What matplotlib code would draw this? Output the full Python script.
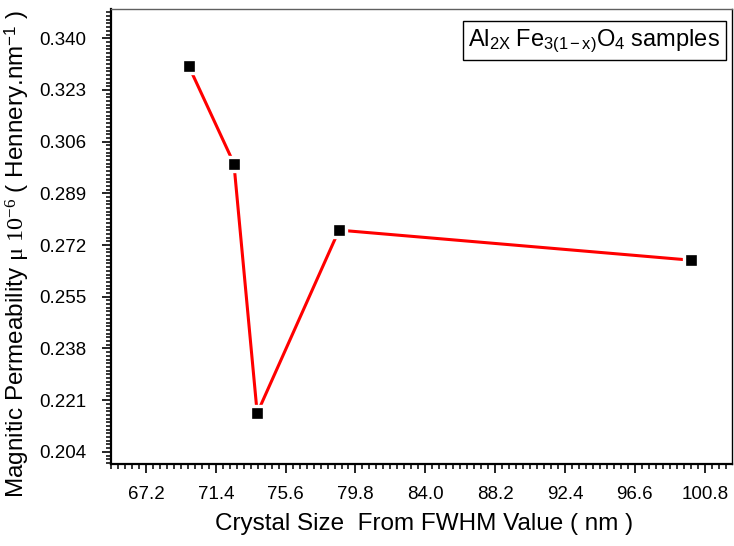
import matplotlib
matplotlib.use("Agg")
import matplotlib.pyplot as plt
from matplotlib.ticker import FixedLocator, FormatStrFormatter, AutoMinorLocator

# Crystal size (nm) vs magnetic permeability (x 1e-6 H/nm)
crystal_size = [69.77, 72.49, 73.89, 78.81, 100.0]
permeability = [0.3309, 0.2988, 0.2167, 0.2769, 0.2670]

x_ticks = [67.2, 71.4, 75.6, 79.8, 84.0, 88.2, 92.4, 96.6, 100.8]
y_ticks = [0.204, 0.221, 0.238, 0.255, 0.272, 0.289, 0.306, 0.323, 0.340]

plt.rcParams["font.family"] = ["Liberation Sans", "DejaVu Sans"]
plt.rcParams["mathtext.fontset"] = "custom"
plt.rcParams["mathtext.rm"] = "Liberation Serif"
plt.rcParams["mathtext.it"] = "Liberation Serif:italic"
plt.rcParams["mathtext.bf"] = "Liberation Serif:bold"
plt.rcParams["mathtext.sf"] = "Liberation Sans"

fig = plt.figure(figsize=(7.34, 5.46), dpi=100)
ax = fig.add_axes([111 / 734, 1 - 464 / 546, 621 / 734, 455 / 546])

ax.plot(crystal_size, permeability, color="#ff0000", lw=2.2,
        marker="s", markersize=9.6, markerfacecolor="black",
        markeredgecolor="white", markeredgewidth=2.4, zorder=3)

ax.set_xlim(65.1, 102.44)
ax.set_ylim(0.2000, 0.3496)

ax.xaxis.set_major_locator(FixedLocator(x_ticks))
ax.yaxis.set_major_locator(FixedLocator(y_ticks))
ax.xaxis.set_major_formatter(FormatStrFormatter("%.1f"))
ax.yaxis.set_major_formatter(FormatStrFormatter("%.3f"))
ax.xaxis.set_minor_locator(AutoMinorLocator(10))
ax.yaxis.set_minor_locator(AutoMinorLocator(14))

ax.tick_params(axis="both", which="major", direction="out", length=6.5,
               width=1.2, labelsize=13.5, color="black")
ax.tick_params(axis="both", which="minor", direction="out", length=3.5,
               width=1.1, color="black")
ax.tick_params(axis="x", which="major", pad=9)
ax.tick_params(axis="y", which="major", pad=11)
ax.tick_params(top=False, right=False, which="both")

for side in ("left", "bottom"):
    ax.spines[side].set_linewidth(1.6)
    ax.spines[side].set_color("black")
ax.spines["top"].set_linewidth(1.0)
ax.spines["top"].set_color("#606060")
ax.spines["right"].set_linewidth(1.0)
ax.spines["right"].set_color("black")

ax.set_xlabel("Crystal Size  From FWHM Value ( nm )", fontsize=17.5)
ax.xaxis.set_label_coords((424 - 111) / 621, (464 - 524) / 455)
ax.xaxis.label.set_va("center")

ax.set_ylabel(r"Magnitic Permeability $\mathrm{\mu\ 10^{-6}}$ ( Hennery.nm$^{\mathsf{-1}}$ )",
              fontsize=17.5)
ax.yaxis.set_label_coords((17 - 111) / 621, (464 - 253.5) / 455)
ax.yaxis.label.set_va("center")
ax.yaxis.label.set_ha("center")

ax.text((594.5 - 111) / 621, (464 - 40.5) / 455,
        r"$\mathsf{Al}_{\mathsf{2X}}\ \mathsf{Fe}_{\mathsf{3(1-x)}}\mathsf{O}_{\mathsf{4}}$ samples",
        transform=ax.transAxes, ha="center", va="center", fontsize=17,
        bbox=dict(boxstyle="square,pad=0.25", facecolor="white",
                  edgecolor="black", linewidth=1.0))

fig.savefig("out.png", dpi=100)
